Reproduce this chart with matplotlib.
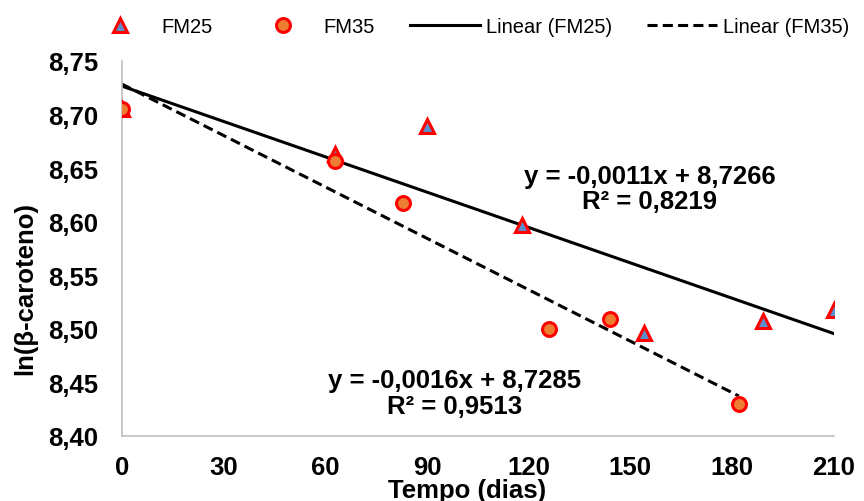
import numpy as np
import matplotlib
matplotlib.use("Agg")
import matplotlib.pyplot as plt

plt.rcParams['font.family'] = ['Liberation Sans', 'DejaVu Sans']

# data
dias_fm25 = [0, 63, 90, 118, 154, 189, 210]
ln_fm25 = [8.705, 8.663, 8.689, 8.597, 8.496, 8.507, 8.518]
dias_fm35 = [0, 63, 83, 126, 144, 182]
ln_fm35 = [8.705, 8.657, 8.617, 8.500, 8.509, 8.430]

# regression coefficients shown on the chart
slope_fm25, icpt_fm25 = -0.0011, 8.7266
slope_fm35, icpt_fm35 = -0.0016, 8.7285

xticks = [0, 30, 60, 90, 120, 150, 180, 210]
yticks = [8.40, 8.45, 8.50, 8.55, 8.60, 8.65, 8.70, 8.75]

big = 18.5  # bold text size

fig = plt.figure(figsize=(8.64, 5.02), dpi=100)
ax = fig.add_axes([0.141, 0.1295, 0.824, 0.747])

x1 = np.array([0, max(dias_fm25)])
x2 = np.array([0, max(dias_fm35)])
ax.plot(x1, slope_fm25 * x1 + icpt_fm25, color='black', lw=2.2,
        label='Linear (FM25)', zorder=2)
ax.plot(x2, slope_fm35 * x2 + icpt_fm35, color='black', lw=2.2,
        ls=(0, (3.3, 1.7)), label='Linear (FM35)', zorder=2)

ax.plot(dias_fm25, ln_fm25, ls='none', marker='^', ms=10, mfc='#5b8fcc',
        mec='red', mew=2.2, label='FM25', zorder=3)
ax.plot(dias_fm35, ln_fm35, ls='none', marker='o', ms=10, mfc='#ed7d31',
        mec='red', mew=2.2, label='FM35', zorder=4)

ax.set_xlim(0, 210)
ax.set_ylim(8.40, 8.75)
ax.set_xticks(xticks)
ax.set_yticks(yticks)
ax.set_xticklabels([str(t) for t in xticks])
ax.set_yticklabels([f"{t:.2f}".replace('.', ',') for t in yticks])
ax.tick_params(axis='both', length=0, labelsize=big)
ax.tick_params(axis='y', pad=17)
ax.tick_params(axis='x', pad=14)
for lab in ax.get_xticklabels() + ax.get_yticklabels():
    lab.set_fontweight('bold')

for s in ['top', 'right']:
    ax.spines[s].set_visible(False)
for s in ['left', 'bottom']:
    ax.spines[s].set_color('#bfbfbf')
    ax.spines[s].set_linewidth(1.2)

ax.set_xlabel('Tempo (dias)', fontsize=big, fontweight='bold')
ax.xaxis.set_label_coords(0.4846, -0.112)
ax.set_ylabel('ln(β-caroteno)', fontsize=big, fontweight='bold')
ax.yaxis.set_label_coords(-0.119, 0.397)

ax.text(155.7, 8.631, 'y = -0,0011x + 8,7266\nR² = 0,8219', ha='center',
        va='center', fontsize=big, fontweight='bold', linespacing=1.1)
ax.text(98.2, 8.440, 'y = -0,0016x + 8,7285\nR² = 0,9513', ha='center',
        va='center', fontsize=big, fontweight='bold', linespacing=1.1)

handles, labels = ax.get_legend_handles_labels()
order = [2, 3, 0, 1]
fig.legend([handles[i] for i in order], [labels[i] for i in order],
           loc='center', bbox_to_anchor=(0.541, 0.946), ncol=4,
           frameon=False, fontsize=14.5, handlelength=3.48,
           columnspacing=1.74, handletextpad=0.3)

fig.savefig('out.png', dpi=100)
